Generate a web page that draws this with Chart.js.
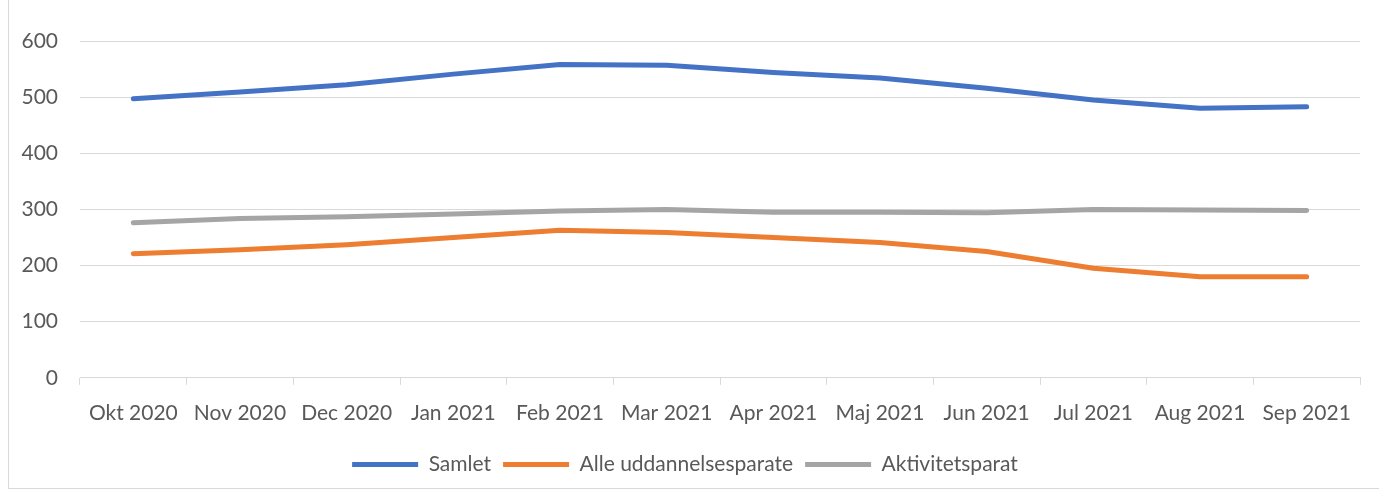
<!DOCTYPE html>
<html>
<head>
<meta charset="utf-8">
<script src="https://cdn.jsdelivr.net/npm/chart.js@4.4.0/dist/chart.umd.min.js"></script>
<style>
  html, body { margin: 0; padding: 0; background: #fff; }
  #wrap { position: absolute; left: 0; top: 0; width: 1379px; height: 490px; }
  #frame { position: absolute; left: 8px; top: 0; width: 1371px; height: 488px; border-left: 1px solid #d9d9d9; border-bottom: 1px solid #d9d9d9; }
</style>
</head>
<body>
<div id="wrap">
  <div id="frame"></div>
  <canvas id="mycanvas" width="1379" height="490"></canvas>
</div>
<script>
var months = ["Okt 2020", "Nov 2020", "Dec 2020", "Jan 2021", "Feb 2021", "Mar 2021",
              "Apr 2021", "Maj 2021", "Jun 2021", "Jul 2021", "Aug 2021", "Sep 2021"];
var samlet = [497, 509, 522, 541, 558, 557, 544, 534, 516, 495, 480, 483];
var uddannelsesparate = [221, 228, 237, 250, 263, 259, 250, 241, 225, 195, 180, 180];
var aktivitetsparat = [276, 284, 287, 292, 297, 300, 295, 295, 294, 300, 299, 298];

var font = "Lato";
var textColor = "#595959";

function lineSet(label, data, color) {
  return {
    label: label,
    data: data,
    borderColor: color,
    backgroundColor: color,
    borderWidth: 5,
    borderCapStyle: "round",
    borderJoinStyle: "round",
    pointRadius: 0,
    pointStyle: "line",
    tension: 0,
    fill: false
  };
}

var chartdata = {
  labels: months,
  datasets: [
    lineSet("Samlet", samlet, "#4472C4"),
    lineSet("Alle uddannelsesparate", uddannelsesparate, "#ED7D31"),
    lineSet("Aktivitetsparat", aktivitetsparat, "#A5A5A5")
  ]
};

var ctx = document.getElementById("mycanvas");
var LineGraph = new Chart(ctx, {
  type: "line",
  data: chartdata,
  options: {
    responsive: false,
    animation: false,
    layout: { padding: { left: 10, right: 19, top: 41, bottom: 5 } },
    plugins: {
      legend: {
        position: "bottom",
        labels: {
          usePointStyle: true,
          pointStyleWidth: 66,
          boxHeight: 10,
          padding: 12,
          color: textColor,
          font: { family: font, size: 21 }
        }
      },
      tooltip: { enabled: false }
    },
    scales: {
      x: {
        offset: true,
        grid: { offset: true, drawOnChartArea: false, drawTicks: true, tickLength: 7, color: "#d9d9d9" },
        border: { color: "#d9d9d9", width: 1 },
        ticks: { color: textColor, padding: 16, maxRotation: 0, font: { family: font, size: 21 } }
      },
      y: {
        min: 0,
        max: 600,
        afterFit: function(s) { s.width = 70; },
        grid: { color: "#d9d9d9", lineWidth: 1, drawTicks: false },
        border: { display: false },
        ticks: { stepSize: 100, color: textColor, padding: 22, font: { family: font, size: 21 } }
      }
    }
  }
});
</script>
</body>
</html>
